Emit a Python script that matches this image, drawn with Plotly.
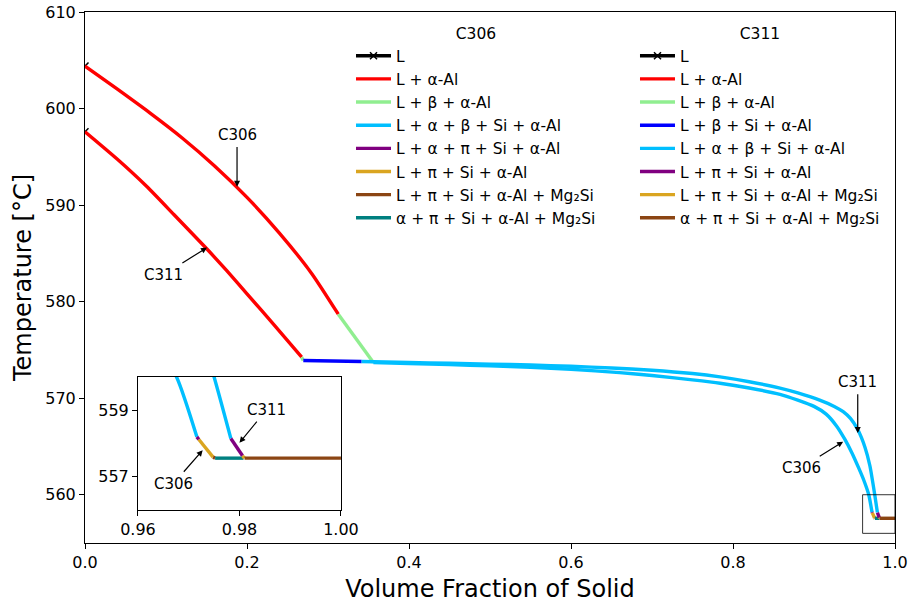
import plotly.graph_objects as go

# ---------------- data ----------------
# C306
c306_L_x = [0.0]
c306_L_T = [604.4]
c306_aAl_x = [0.0, 0.04, 0.08, 0.12, 0.16, 0.20, 0.24, 0.28, 0.3127]
c306_aAl_T = [604.4, 602.0, 599.55, 596.95, 594.05, 590.8, 587.1, 582.9, 578.7]
c306_b_x = [0.3127, 0.356]
c306_b_T = [578.7, 573.7]
c306_abSi_x = [0.356, 0.40, 0.45, 0.50, 0.55, 0.60, 0.66, 0.70, 0.75, 0.784, 0.82, 0.858, 0.88,
               0.90, 0.915, 0.928, 0.938, 0.947, 0.955, 0.9615, 0.9676, 0.9716]
c306_abSi_T = [573.7, 573.6, 573.48, 573.35, 573.2, 573.0, 572.65, 572.35, 571.9, 571.55, 571.05,
               570.4, 569.8, 569.15, 568.35, 567.1, 565.75, 564.3, 562.8, 561.5, 560.0, 558.2]
c306_apSi_x = [0.9716, 0.972]
c306_apSi_T = [558.2, 558.12]
c306_pSi_x = [0.972, 0.9748]
c306_pSi_T = [558.12, 557.59]
c306_LMg_x = [0.9748, 0.9752]
c306_LMg_T = [557.59, 557.56]
c306_sMg_x = [0.9752, 0.9808]
c306_sMg_T = [557.56, 557.56]

# C311
c311_L_x = [0.0]
c311_L_T = [597.6]
c311_aAl_x = [0.0, 0.04, 0.076, 0.11, 0.15, 0.175, 0.20, 0.235, 0.2675]
c311_aAl_T = [597.6, 594.75, 591.95, 589.0, 585.5, 583.2, 580.8, 577.45, 574.25]
c311_b_x = [0.2675, 0.2695]
c311_b_T = [574.25, 573.9]
c311_bSi_x = [0.2695, 0.3415]
c311_bSi_T = [573.9, 573.8]
c311_abSi_x = [0.3415, 0.40, 0.45, 0.50, 0.55, 0.60, 0.65, 0.70, 0.75, 0.784, 0.82, 0.858,
               0.88, 0.907, 0.925, 0.936, 0.945, 0.954, 0.963, 0.969, 0.975, 0.9783]
c311_abSi_T = [573.8, 573.7, 573.62, 573.53, 573.43, 573.3, 573.13, 572.9, 572.55, 572.2, 571.7,
               571.05, 570.55, 569.8, 569.15, 568.6, 567.9, 566.75, 564.9, 563.0, 560.0, 558.15]
c311_pSi_x = [0.9783, 0.9806]
c311_pSi_T = [558.15, 557.63]
c311_LMg_x = [0.9806, 0.981]
c311_LMg_T = [557.63, 557.56]
c311_sMg_x = [0.981, 1.0]
c311_sMg_T = [557.56, 557.56]

x_ticks = [0.0, 0.2, 0.4, 0.6, 0.8, 1.0]
x_ticklabels = ["0.0", "0.2", "0.4", "0.6", "0.8", "1.0"]
y_ticks = [560, 570, 580, 590, 600, 610]
inset_x_ticks = [0.96, 0.98, 1.00]
inset_x_ticklabels = ["0.96", "0.98", "1.00"]
inset_y_ticks = [557, 559]

# ---------------- styling ----------------
COL = {
    "L": "black",
    "aAl": "#ff0000",
    "b": "#90ee90",
    "bSi": "#0000ff",
    "abSi": "#00bfff",
    "purple": "#800080",
    "gold": "#daa520",
    "brown": "#8b4513",
    "teal": "#008080",
}
FONT = "DejaVu Sans"
LW = 3.4

c306_series = [
    ("L", c306_L_x, c306_L_T, COL["L"]),
    ("L + α-Al", c306_aAl_x, c306_aAl_T, COL["aAl"]),
    ("L + β + α-Al", c306_b_x, c306_b_T, COL["b"]),
    ("L + β + Si + α-Al", [], [], COL["bSi"]),
    ("L + α + β + Si + α-Al", c306_abSi_x, c306_abSi_T, COL["abSi"]),
    ("L + α + π + Si + α-Al", c306_apSi_x, c306_apSi_T, COL["purple"]),
    ("L + π + Si + α-Al", c306_pSi_x, c306_pSi_T, COL["gold"]),
    ("L + π + Si + α-Al + Mg₂Si", c306_LMg_x, c306_LMg_T, COL["brown"]),
    ("α + π + Si + α-Al + Mg₂Si", c306_sMg_x, c306_sMg_T, COL["teal"]),
]
c311_series = [
    ("L", c311_L_x, c311_L_T, COL["L"]),
    ("L + α-Al", c311_aAl_x, c311_aAl_T, COL["aAl"]),
    ("L + β + α-Al", c311_b_x, c311_b_T, COL["b"]),
    ("L + β + Si + α-Al", c311_bSi_x, c311_bSi_T, COL["bSi"]),
    ("L + α + β + Si + α-Al", c311_abSi_x, c311_abSi_T, COL["abSi"]),
    ("L + π + Si + α-Al", c311_pSi_x, c311_pSi_T, COL["purple"]),
    ("L + π + Si + α-Al + Mg₂Si", c311_LMg_x, c311_LMg_T, COL["gold"]),
    ("α + π + Si + α-Al + Mg₂Si", c311_sMg_x, c311_sMg_T, COL["brown"]),
]

fig = go.Figure()


def line_style(xs, col):
    d = dict(color=col, width=LW)
    if len(xs) > 3:
        d["shape"] = "spline"
        d["smoothing"] = 0.6
    return d


def add_series(series, legend_name):
    for name, xs, ts, col in series:
        is_L = name == "L"
        kw = dict(mode="lines+markers" if is_L else "lines", line=line_style(xs, col))
        if is_L:
            kw["marker"] = dict(symbol="x-thin", size=7, line=dict(color=col, width=1.5), color=col)
        fig.add_trace(go.Scatter(x=xs, y=ts, name=name, legend=legend_name,
                                 showlegend=True, xaxis="x", yaxis="y", **kw))
    # inset copies
    for name, xs, ts, col in series:
        if name == "L":
            continue
        fig.add_trace(go.Scatter(x=xs, y=ts, mode="lines", line=line_style(xs, col),
                                 showlegend=False, xaxis="x2", yaxis="y2", hoverinfo="skip"))


add_series(c306_series, "legend")
add_series(c311_series, "legend2")

axis_common = dict(
    showline=True, linecolor="black", linewidth=1, mirror=True,
    ticks="outside", ticklen=5, tickwidth=1, tickcolor="black",
    showgrid=False, zeroline=False, automargin=False, ticklabeloverflow="allow",
    tickfont=dict(family=FONT, size=16, color="black"),
)

leg_common = dict(
    xanchor="left", yanchor="top", bgcolor="rgba(0,0,0,0)",
    font=dict(family=FONT, size=15.5, color="black"), itemwidth=35, tracegroupgap=0,
)

fig.update_layout(
    width=908, height=604,
    margin=dict(l=85, r=13, t=12, b=61),
    plot_bgcolor="white", paper_bgcolor="white",
    font=dict(family=FONT, color="black"),
    xaxis=dict(range=[0, 1], tickvals=x_ticks, ticktext=x_ticklabels, domain=[0, 1],
               title=dict(text="Volume Fraction of Solid", font=dict(size=24), standoff=8),
               **axis_common),
    yaxis=dict(range=[555, 610], tickvals=y_ticks, domain=[0, 1],
               title=dict(text="Temperature [°C]", font=dict(size=24), standoff=6),
               **axis_common),
    xaxis2=dict(range=[0.96, 1.0], tickvals=inset_x_ticks, ticktext=inset_x_ticklabels,
                domain=[0.0654, 0.316], anchor="y2", **axis_common),
    yaxis2=dict(range=[556, 560], tickvals=inset_y_ticks, domain=[0.0621, 0.3126],
                anchor="x2", **axis_common),
    legend=dict(title=dict(text="C306", side="top center", font=dict(size=15.5)),
                x=0.3284, y=0.9868, **leg_common),
    legend2=dict(title=dict(text="C311", side="top center", font=dict(size=15.5)),
                 x=0.679, y=0.9868, **leg_common),
    showlegend=True,
)

# zoom rectangle on main axes
fig.add_shape(type="rect", xref="x", yref="y", x0=0.96, x1=1.0, y0=556, y1=560,
              line=dict(color="black", width=0.8), layer="above")

ann_font = dict(family=FONT, size=15, color="black")
annotations = [
    # main axes
    dict(text="C306", x=0.1877, y=591.9, ax=0.1877, ay=597.3, xref="x", yref="y"),
    dict(text="C311", x=0.1506, y=585.6, ax=0.0975, ay=582.8, xref="x", yref="y"),
    dict(text="C311", x=0.954, y=566.4, ax=0.954, ay=571.7, xref="x", yref="y"),
    dict(text="C306", x=0.936, y=565.5, ax=0.884, ay=562.8, xref="x", yref="y"),
    # inset
    dict(text="C311", x=0.9800, y=558.02, ax=0.98536, ay=559.02, xref="x2", yref="y2"),
    dict(text="C306", x=0.97275, y=557.8, ax=0.96696, ay=556.79, xref="x2", yref="y2"),
]
for a in annotations:
    fig.add_annotation(
        text=a["text"], x=a["x"], y=a["y"], ax=a["ax"], ay=a["ay"],
        xref=a["xref"], yref=a["yref"], axref=a["xref"], ayref=a["yref"],
        showarrow=True, arrowhead=2, arrowsize=1, arrowwidth=1.2, arrowcolor="black",
        font=ann_font, standoff=0, startstandoff=2,
    )

# remove the default 8px page margin so the 908x604 figure fills the window exactly
fig.write_html("out.html", config={"displayModeBar": False},
               post_script="document.body.style.margin='0px';")
